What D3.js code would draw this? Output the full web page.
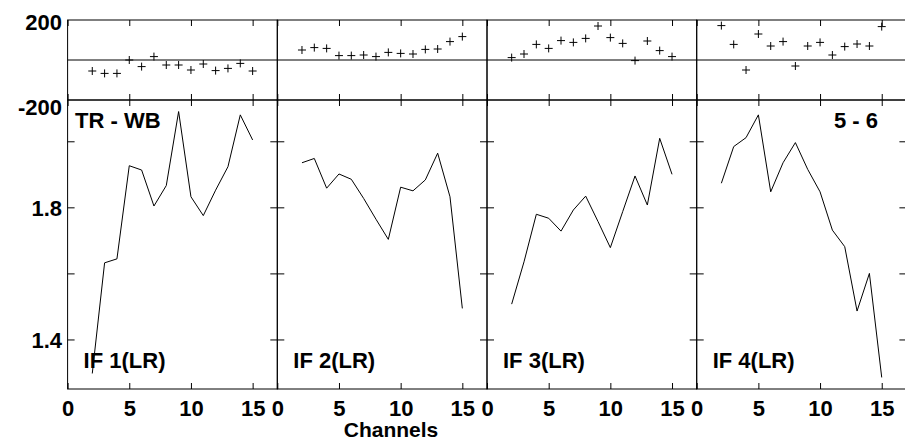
<!DOCTYPE html>
<html>
<head>
<meta charset="utf-8">
<script src="https://cdn.jsdelivr.net/npm/d3@7"></script>
<style>
  html, body { margin: 0; padding: 0; background: #fff; }
  svg { display: block; }
  text { font-family: "Liberation Sans", Arial, sans-serif; font-weight: bold; fill: #000; }
</style>
</head>
<body>
<svg id="chart" width="905" height="442"></svg>
<script>
// ---- data ----
const channels = [2, 3, 4, 5, 6, 7, 8, 9, 10, 11, 12, 13, 14, 15];
const panelLabels = ["IF 1(LR)", "IF 2(LR)", "IF 3(LR)", "IF 4(LR)"];
const xTicks = [0, 5, 10, 15];
const phaseTickLabels = [200, -200];
const ampTicks = [1.4, 1.6, 1.8, 2.0];
const ampTickLabels = [1.4, 1.8];
const titleLeft = "TR - WB";
const titleRight = "5 - 6";
const xTitle = "Channels";

// phase (top row), one array per IF
const phase1 = [-55, -67, -67, 0, -33, 17, -25, -25, -50, -20, -53, -42, -17, -55];
const phase2 = [50, 62, 58, 22, 22, 25, 17, 38, 33, 30, 53, 55, 92, 117];
const phase3 = [12, 30, 78, 58, 97, 88, 108, 170, 112, 83, -3, 95, 47, 17];
const phase4 = [172, 78, -50, 130, 70, 92, -30, 70, 88, 25, 67, 80, 70, 167];

// amplitude (bottom row), one array per IF
const amp1 = [1.297, 1.632, 1.644, 1.926, 1.913, 1.804, 1.866, 2.090, 1.832, 1.775, 1.852, 1.923, 2.080, 2.004];
const amp2 = [1.935, 1.948, 1.858, 1.901, 1.885, 1.827, 1.764, 1.703, 1.861, 1.850, 1.883, 1.964, 1.832, 1.494];
const amp3 = [1.507, 1.635, 1.779, 1.767, 1.728, 1.792, 1.834, 1.757, 1.678, 1.787, 1.895, 1.807, 2.009, 1.900];
const amp4 = [1.873, 1.984, 2.011, 2.080, 1.847, 1.935, 1.996, 1.915, 1.847, 1.731, 1.681, 1.486, 1.600, 1.285];

const phases = [phase1, phase2, phase3, phase4];
const amps = [amp1, amp2, amp3, amp4];

// ---- layout ----
const svg = d3.select("#chart");
const left0 = 67.6, pitch = 209.7;
const topY0 = 20, topY1 = 100, botY1 = 389;
const fs = 22;

const yTop = d3.scaleLinear().domain([-200, 200]).range([topY1, topY0]);
const yBot = d3.scaleLinear().domain([1.25, 2.125]).range([botY1, topY1]);

function styleAxis(g) {
  g.select(".domain").remove();
  g.selectAll(".tick line").attr("stroke", "#000").attr("stroke-width", 1);
  g.selectAll("text").style("font-size", fs + "px").style("font-family", '"Liberation Sans", Arial, sans-serif').style("font-weight", "bold").attr("fill", "#000");
}

panelLabels.forEach((lab, i) => {
  const L = left0 + i * pitch, R = L + pitch;
  const x = d3.scaleLinear().domain([0, 17]).range([L, R]);
  const g = svg.append("g");

  // frames
  g.append("rect").attr("x", L).attr("y", topY0).attr("width", R - L).attr("height", topY1 - topY0)
    .attr("fill", "none").attr("stroke", "#000").attr("stroke-width", 1);
  g.append("rect").attr("x", L).attr("y", topY1).attr("width", R - L).attr("height", botY1 - topY1)
    .attr("fill", "none").attr("stroke", "#000").attr("stroke-width", 1);
  // zero line
  g.append("line").attr("x1", L).attr("x2", R).attr("y1", yTop(0)).attr("y2", yTop(0))
    .attr("stroke", "#000").attr("stroke-width", 1);

  // x ticks, inward, on every horizontal edge
  g.append("g").attr("transform", `translate(0,${topY0})`)
    .call(d3.axisTop(x).tickValues(xTicks).tickSizeInner(-6).tickSizeOuter(0).tickFormat(""))
    .call(styleAxis);
  g.append("g").attr("transform", `translate(0,${topY1})`)
    .call(d3.axisBottom(x).tickValues(xTicks).tickSizeInner(-6).tickSizeOuter(0).tickFormat(""))
    .call(styleAxis);
  g.append("g").attr("transform", `translate(0,${topY1})`)
    .call(d3.axisTop(x).tickValues(xTicks).tickSizeInner(-6).tickSizeOuter(0).tickFormat(""))
    .call(styleAxis);
  g.append("g").attr("transform", `translate(0,${botY1})`)
    .call(d3.axisBottom(x).tickValues(xTicks).tickSizeInner(-6).tickSizeOuter(0).tickPadding(11))
    .call(styleAxis);

  // y ticks, inward, both sides
  g.append("g").attr("transform", `translate(${L},0)`)
    .call(d3.axisLeft(yBot).tickValues(ampTicks).tickSizeInner(-7).tickSizeOuter(0)
      .tickPadding(5.6)
      .tickFormat(d => (i === 0 && ampTickLabels.some(v => Math.abs(v - d) < 1e-9)) ? d3.format(".1f")(d) : ""))
    .call(styleAxis)
    .call(a => a.selectAll("text").attr("dy", "0.36em"));
  g.append("g").attr("transform", `translate(${R},0)`)
    .call(d3.axisRight(yBot).tickValues(ampTicks).tickSizeInner(-7).tickSizeOuter(0).tickFormat(""))
    .call(styleAxis);

  // phase crosses
  const ph = phases[i];
  const crosses = g.append("g").attr("stroke", "#000").attr("stroke-width", 1);
  channels.forEach((c, k) => {
    const cx = x(c), cy = yTop(ph[k]);
    crosses.append("path").attr("d", `M${cx - 4},${cy}H${cx + 4}M${cx},${cy - 4}V${cy + 4}`);
  });

  // amplitude line
  const line = d3.line().x((d, k) => x(channels[k])).y(d => yBot(d));
  g.append("path").datum(amps[i]).attr("d", line)
    .attr("fill", "none").attr("stroke", "#000").attr("stroke-width", 1);

  // panel label
  g.append("text").attr("x", L + 16).attr("y", 368).style("font-size", fs + "px").text(lab);
});

// phase axis labels
svg.append("text").attr("x", 62).attr("y", yTop(phaseTickLabels[0]) + 2.5).attr("dy", "0.36em")
  .attr("text-anchor", "end").style("font-size", fs + "px").text(phaseTickLabels[0]);
svg.append("text").attr("x", 62).attr("y", yTop(phaseTickLabels[1]) + 7.5).attr("dy", "0.36em")
  .attr("text-anchor", "end").style("font-size", fs + "px").text(phaseTickLabels[1]);

// titles
svg.append("text").attr("x", 75).attr("y", 128).style("font-size", fs + "px").text(titleLeft);
svg.append("text").attr("x", 878).attr("y", 128).attr("text-anchor", "end").style("font-size", fs + "px").text(titleRight);
svg.append("text").attr("x", 391).attr("y", 437).attr("text-anchor", "middle").style("font-size", "21px").text(xTitle);
</script>
</body>
</html>
